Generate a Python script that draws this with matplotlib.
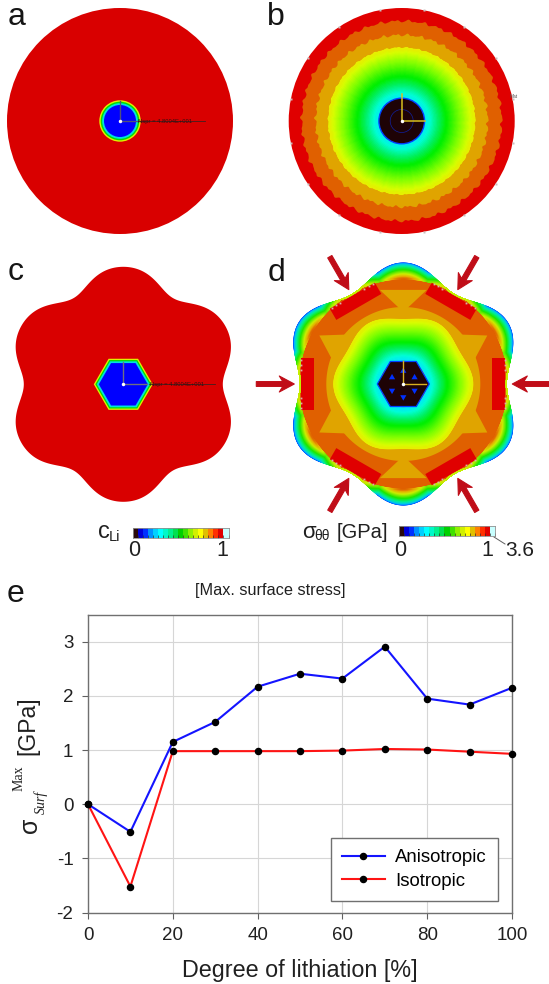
import numpy as np
import matplotlib
matplotlib.use('Agg')
from matplotlib import pyplot as plt
from matplotlib.colors import LinearSegmentedColormap, ListedColormap

plt.rcParams['font.family'] = ['Liberation Sans', 'DejaVu Sans']
plt.rcParams['axes.unicode_minus'] = False

# line chart values (panel e)
lithiation = [0, 10, 20, 30, 40, 50, 60, 70, 80, 90, 100]
anisotropic = [0, -0.51, 1.15, 1.52, 2.17, 2.41, 2.32, 2.91, 1.95, 1.84, 2.15]
isotropic = [0, -1.52, 0.98, 0.98, 0.98, 0.98, 0.99, 1.02, 1.01, 0.97, 0.93]
x_ticks = [0, 20, 40, 60, 80, 100]
y_ticks = [-2, -1, 0, 1, 2, 3]

# contour colours
RED = '#d90000'
ORANGE = '#e06000'
AMBER = '#e0a400'
DARK = '#1e0306'
bar_colors = ['#2a0a0a', '#0000d8', '#0030ff', '#0090ff', '#00d0ff', '#00ffff', '#00f8c8',
              '#00f090', '#00e050', '#00d000', '#40e000', '#90f000', '#d0f000', '#ffff00',
              '#e0c000', '#ff8000', '#ff3000', '#e00000', '#c8ffff']

# panel a / b rings, radius in pixels
a_radii = [113, 20.7, 19.3, 17.8, 16.0]
a_colors = [RED, '#e0f000', '#00e000', '#00e0e0', '#0000ff']
b_radii = [113, 100, 86]
b_colors = ['#e00000', ORANGE, AMBER]
c_hex_radii = [29.5, 28, 26.5, 24.5]
c_hex_colors = ['#e0f000', '#00e000', '#00e0e0', '#0000ff']

field_stops = [(0.0, '#00e8ff'), (0.12, '#00ffd8'), (0.3, '#00f060'), (0.45, '#00f000'),
               (0.72, '#80ff00'), (0.92, '#d8ff00'), (1.0, '#e8f000')]
rim_stops = [(0.0, '#0050ff'), (0.08, '#00c0ff'), (0.22, '#00f0a0'), (0.45, '#20e800'),
             (0.72, '#d0f000'), (0.88, '#e8b000'), (1.0, ORANGE)]
field_cmap = LinearSegmentedColormap.from_list('field', field_stops)
rim_cmap = LinearSegmentedColormap.from_list('rim', rim_stops)

arrow_angles = [0, 60, 120, 180, 240, 300]
lobe_angles = [30, 90, 150, 210, 270, 330]

theta = np.linspace(0, 2 * np.pi, 721)

fig = plt.figure(figsize=(5.49, 9.84), dpi=100)
canvas = fig.add_axes([0, 0, 1, 1])
canvas.set_xlim(0, 549)
canvas.set_ylim(984, 0)
canvas.axis('off')


def polar(cx, cy, r, t):
    return cx + r * np.cos(t), cy - r * np.sin(t)


def lobes(t, base, amp, amp2=0.0):
    return base + amp * np.cos(6 * (t - np.pi / 6)) + amp2 * np.cos(12 * (t - np.pi / 6))


def hexagon(cx, cy, r, **kw):
    t = np.radians(np.arange(0, 360, 60))
    x, y = polar(cx, cy, r, t)
    canvas.fill(x, y, **kw)


def rough(t):
    # ragged element edges of the coarse mesh
    return 0.9 * np.sin(43 * t) + 0.6 * np.sin(71 * t + 1) + 0.3 * np.sin(113 * t + 2)


def radial_field(cx, cy, r_in, r_out, cmap):
    u = np.linspace(0, 1, 40)[:, None]
    r = r_in + u * (r_out - r_in)
    x, y = polar(cx, cy, r, theta)
    canvas.pcolormesh(x, y, (r - r_in) / (r_out - r_in), cmap=cmap, shading='gouraud', vmin=0, vmax=1)


def triad(cx, cy, up, right, color, lw=1):
    canvas.plot([cx, cx], [cy, cy - up], color=color, lw=lw)
    canvas.plot([cx, cx + right], [cy, cy], color=color, lw=lw)
    canvas.plot(cx, cy, 'o', ms=2.5, color='white', mec='none')


def swept_arrow(cx, cy, deg, r_tip, r_tail):
    a = np.radians(deg)
    ux, uy = np.cos(a), -np.sin(a)
    px, py = -uy, ux
    shape = [(r_tip, 0), (r_tip + 15, 8), (r_tip + 11.5, 2.4), (r_tail, 2.4), (r_tail, -2.4),
             (r_tip + 11.5, -2.4), (r_tip + 15, -8)]
    xs = [cx + s * ux + w * px for s, w in shape]
    ys = [cy + s * uy + w * py for s, w in shape]
    canvas.fill(xs, ys, color='#c00d18', lw=0.8, joinstyle='round')


def colorbar(left, top, width, height):
    ax = fig.add_axes([left / 549, 1 - (top + height) / 984, width / 549, height / 984])
    ax.pcolormesh([list(range(len(bar_colors)))], cmap=ListedColormap(bar_colors))
    ax.set_xticks(range(len(bar_colors) + 1))
    ax.set_yticks([])
    ax.tick_params(axis='x', direction='in', length=2, width=0.5, color='#303030', labelbottom=False)
    for s in ax.spines.values():
        s.set_color('#909090')
        s.set_linewidth(0.6)


# panel a
ax_x, ax_y = 120, 121
for r, c in zip(a_radii, a_colors):
    canvas.add_patch(plt.Circle((ax_x, ax_y), r, color=c, lw=0))
triad(ax_x, ax_y, 20, 18, '#50507a')
canvas.plot([138, 205], [121, 121], color='#402020', lw=0.6)
canvas.text(138, 121.5, 'Nspr = 4.8004E+001', fontsize=4.2, color='#301010', va='center')

# panel b
bx, by = 401.7, 121
canvas.add_patch(plt.Circle((bx, by), b_radii[0], color=b_colors[0], lw=0))
for r, c in zip(b_radii[1:], b_colors[1:]):
    x, y = polar(bx, by, r + rough(theta), theta)
    canvas.fill(x, y, color=c, lw=0)
radial_field(bx, by, 22.0, 73 + 0.4 * rough(theta), field_cmap)
mark_t = np.radians(11.25 + 22.5 * np.arange(16))
canvas.plot(*polar(bx, by, 113, mark_t), 's', ms=1.5, color='#c8c0c0', mec='none')
canvas.add_patch(plt.Circle((bx, by), 22.8, fc=DARK, ec='#0040ff', lw=1.0))
canvas.add_patch(plt.Circle((bx, by), 11.5, fc='none', ec='#1020a0', lw=0.5))
triad(bx, by, 27, 23, '#d8c020', lw=1.1)
canvas.text(510, 96, 'Mat', fontsize=3.5, color='#555555', va='center')

# panel c
cx, cy = 123.3, 384.3
x, y = polar(cx, cy, lobes(theta, 109.5, 9, -1), theta)
canvas.fill(x, y, color=RED, lw=0)
for r, c in zip(c_hex_radii, c_hex_colors):
    hexagon(cx, cy, r, color=c, lw=0)
triad(cx, cy, 22, 24, '#707080')
canvas.plot([cx + 26, cx + 92], [cy, cy], color='#402020', lw=0.6)
canvas.text(150, 384.8, 'Nspr = 4.8004E+001', fontsize=4.2, color='#301010', va='center')

# panel d
dx, dy = 403.3, 384
outer = lobes(theta, 112, 9)
inner = np.minimum(outer - 0.01, 105)
x, y = polar(dx, dy, inner, theta)
canvas.fill(x, y, color=ORANGE, lw=0)
u = np.linspace(0, 1, 40)[:, None]
rr = outer - u * (outer - inner)
x, y = polar(dx, dy, rr, theta)
rim_level = (outer - rr) / 16 + 0.7 * np.clip((114 - outer) / 8, 0, 1)
canvas.pcolormesh(x, y, np.clip(rim_level, 0, 1), cmap=rim_cmap, shading='gouraud', vmin=0, vmax=1)
x, y = polar(dx, dy, np.full_like(theta, 77.0), theta)
canvas.fill(x, y, color=AMBER, lw=0)
for deg in lobe_angles:
    a = np.radians(deg)
    if deg in (90, 270):
        rs, offs = [72, 97, 97], [0, 14, -14]
    else:
        rs, offs = [97, 74, 74], [0, 12, -12]
    tx, ty = polar(dx, dy, np.array(rs), a + np.radians(offs))
    canvas.fill(tx, ty, color=AMBER, lw=0)
radial_field(dx, dy, 24.0, lobes(theta, 67, -2.5), field_cmap)
for deg in arrow_angles:
    a = np.radians(deg)
    ux, uy = np.cos(a), -np.sin(a)
    px, py = -uy, ux
    r1, r2, half = 89, 102, 26
    corners = [(r1, half), (r2, half), (r2, -half), (r1, -half)]
    canvas.fill([dx + s * ux + w * px for s, w in corners],
                [dy + s * uy + w * py for s, w in corners], color='#e00000', lw=0)
    for w in (-24, -19, -14, 14, 19, 24):
        canvas.plot(dx + 102 * ux + w * px, dy + 102 * uy + w * py, 's', ms=1.3, color='#d8b0a8', mec='none')
    swept_arrow(dx, dy, deg, 109, 147)
hexagon(dx, dy, 26, fc=DARK, ec='#0040ff', lw=0.9, joinstyle='round')
for deg in lobe_angles:
    a = np.radians(deg)
    t0 = np.radians([90, 210, 330]) + (0 if deg in (30, 90, 150) else np.pi)
    tx, ty = polar(dx + 13 * np.cos(a), dy - 13 * np.sin(a), 3.6, t0)
    canvas.fill(tx, ty, color='#0030ff', lw=0)
triad(dx, dy, 23, 23, '#d8b020', lw=1)

# panel letters
for letter, lx, ly in [('a', 8, 17), ('b', 267, 17), ('c', 8, 272), ('d', 268, 273), ('e', 7, 594)]:
    canvas.text(lx, ly, letter, fontsize=23, va='center', ha='left', color='#151515')

# colour bars and their labels
colorbar(133, 527.7, 95.5, 10)
colorbar(399, 526, 96, 9.7)
canvas.text(98, 532, 'c', fontsize=17, va='center', color='#202020')
canvas.text(109, 537, 'Li', fontsize=10.5, va='center', color='#202020')
canvas.text(134, 551, '0', fontsize=15.5, va='center', ha='center', color='#202020')
canvas.text(222, 551, '1', fontsize=15.5, va='center', ha='center', color='#202020')
canvas.text(302, 532, 'σ', fontsize=16, va='center', color='#202020')
canvas.text(314, 536, 'θθ', fontsize=10, va='center', color='#202020')
canvas.text(337, 532, '[GPa]', fontsize=14.5, va='center', color='#202020')
canvas.text(400, 551, '0', fontsize=15.5, va='center', ha='center', color='#202020')
canvas.text(487, 551, '1', fontsize=15.5, va='center', ha='center', color='#202020')
canvas.text(505, 551, '3.6', fontsize=15, va='center', ha='left', color='#202020')
canvas.plot([494, 505], [537, 544], color='#606060', lw=0.7)

# panel e
ax = fig.add_axes([88 / 549, 1 - 912.5 / 984, 424 / 549, 297.8 / 984])
ax.plot(lithiation, anisotropic, '-o', color='#1414ff', lw=1.5, ms=4.4, mfc='black', mec='black',
        label='Anisotropic', clip_on=False, zorder=4)
ax.plot(lithiation, isotropic, '-o', color='#ff1414', lw=1.5, ms=4.4, mfc='black', mec='black',
        label='Isotropic', clip_on=False, zorder=3)
ax.set_xlim(0, 100)
ax.set_ylim(-2, 3.5)
ax.set_xticks(x_ticks)
ax.set_yticks(y_ticks)
ax.grid(True, color='#d6d6d6', lw=0.8)
ax.set_axisbelow(True)
ax.tick_params(labelsize=13.5, length=4.5, width=0.8, color='#606060', labelcolor='#202020', pad=6)
for s in ax.spines.values():
    s.set_color('#707070')
    s.set_linewidth(1)
ax.set_xlabel('Degree of lithiation [%]', fontsize=16.8, color='#202020', labelpad=11)
leg = ax.legend(loc='lower right', bbox_to_anchor=(0.967, 0.0393), fontsize=13.4, fancybox=False, framealpha=1,
                edgecolor='#707070', borderpad=0.6, labelspacing=0.35, handlelength=2.3, handletextpad=0.56,
                borderaxespad=0)
leg.get_frame().set_linewidth(1)

canvas.text(270, 591, '[Max. surface stress]', fontsize=11.7, ha='center', va='center', color='#202020')
canvas.text(30, 825, 'σ', fontsize=18, rotation=90, ha='center', va='center', color='#202020')
canvas.text(41, 802, 'Surf', fontsize=10, rotation=90, ha='center', va='center', style='italic',
            family='Liberation Serif', color='#202020')
canvas.text(19, 778, 'Max', fontsize=10, rotation=90, ha='center', va='center',
            family='Liberation Serif', color='#202020')
canvas.text(28, 726, '[GPa]', fontsize=16.5, rotation=90, ha='center', va='center', color='#202020')

fig.savefig('out.png', dpi=100)
